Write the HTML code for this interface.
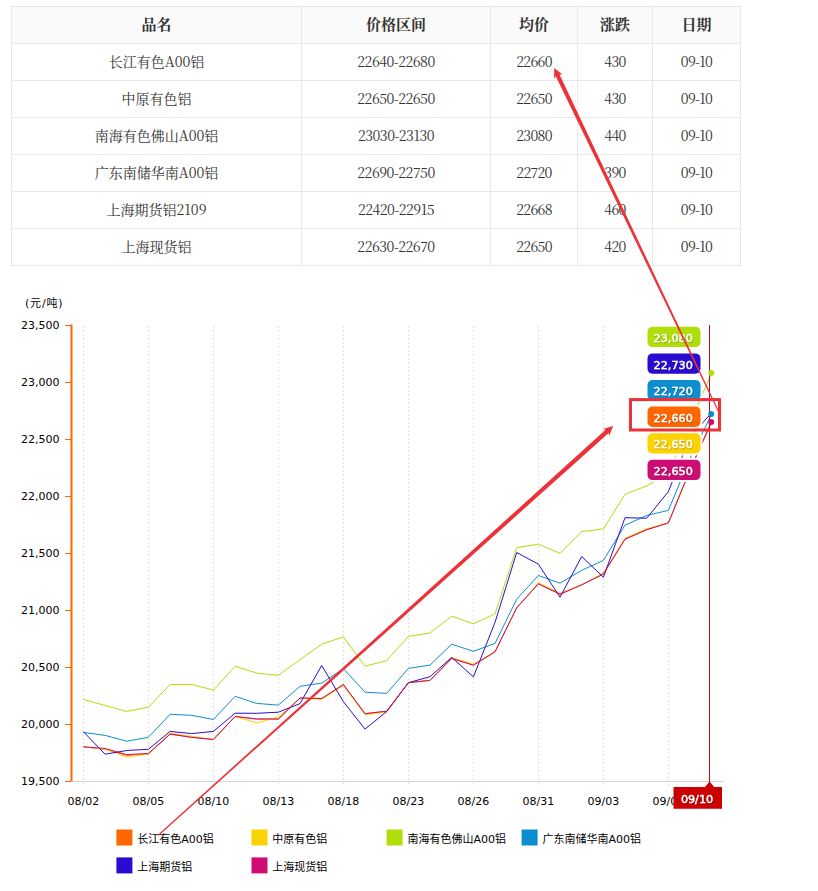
<!DOCTYPE html>
<html lang="zh-CN">
<head>
<meta charset="utf-8">
<title>铝价行情</title>
<style>
html,body{margin:0;padding:0;background:#fff;}
body{width:818px;height:891px;position:relative;overflow:hidden;}
table.q{position:absolute;left:11px;top:6px;width:729px;border-collapse:collapse;table-layout:fixed;
  font-family:"Noto Serif CJK SC","Liberation Serif",serif;font-size:14px;color:#333;}
table.q th,table.q td{border:1px solid #e8e8e8;height:36px;padding:0;text-align:center;vertical-align:middle;line-height:18px;}
table.q td,table.q th{height:34px;padding-bottom:2px;}
table.q td.n{letter-spacing:-0.7px;}
table.q td.r{letter-spacing:-0.5px;}
table.q th{background:#fafafa;font-size:15px;font-weight:bold;color:#333;}
svg.c{position:absolute;left:0;top:0;}
svg.c text{font-family:"DejaVu Sans","Noto Sans CJK SC",sans-serif;font-size:11px;fill:#000;}
svg.c text.bt{fill:#fff;stroke:#fff;stroke-width:0.45px;font-size:11.2px;}
</style>
</head>
<body>
<table class="q">
<colgroup><col style="width:290px"><col style="width:189px"><col style="width:87px"><col style="width:75px"><col style="width:88px"></colgroup>
<tr><th>品名</th><th>价格区间</th><th>均价</th><th>涨跌</th><th>日期</th></tr>
<tr><td>长江有色A00铝</td><td class="r">22640-22680</td><td class="n">22660</td><td class="n">430</td><td class="n">09-10</td></tr>
<tr><td>中原有色铝</td><td class="r">22650-22650</td><td class="n">22650</td><td class="n">430</td><td class="n">09-10</td></tr>
<tr><td>南海有色佛山A00铝</td><td class="r">23030-23130</td><td class="n">23080</td><td class="n">440</td><td class="n">09-10</td></tr>
<tr><td>广东南储华南A00铝</td><td class="r">22690-22750</td><td class="n">22720</td><td class="n">390</td><td class="n">09-10</td></tr>
<tr><td>上海期货铝2109</td><td class="r">22420-22915</td><td class="n">22668</td><td class="n">460</td><td class="n">09-10</td></tr>
<tr><td>上海现货铝</td><td class="r">22630-22670</td><td class="n">22650</td><td class="n">420</td><td class="n">09-10</td></tr>
</table>
<svg class="c" width="818" height="891" viewBox="0 0 818 891">
<defs><filter id="ts" x="-10%" y="-30%" width="120%" height="170%"><feDropShadow dx="0.5" dy="0.8" stdDeviation="0.25" flood-color="#000" flood-opacity="0.35"/></filter></defs>
<line x1="83.5" y1="326" x2="83.5" y2="786" stroke="#e2e2e2" stroke-width="1" stroke-dasharray="2,2"/>
<line x1="148.5" y1="326" x2="148.5" y2="786" stroke="#e2e2e2" stroke-width="1" stroke-dasharray="2,2"/>
<line x1="213.5" y1="326" x2="213.5" y2="786" stroke="#e2e2e2" stroke-width="1" stroke-dasharray="2,2"/>
<line x1="278.5" y1="326" x2="278.5" y2="786" stroke="#e2e2e2" stroke-width="1" stroke-dasharray="2,2"/>
<line x1="343.5" y1="326" x2="343.5" y2="786" stroke="#e2e2e2" stroke-width="1" stroke-dasharray="2,2"/>
<line x1="408.5" y1="326" x2="408.5" y2="786" stroke="#e2e2e2" stroke-width="1" stroke-dasharray="2,2"/>
<line x1="473.5" y1="326" x2="473.5" y2="786" stroke="#e2e2e2" stroke-width="1" stroke-dasharray="2,2"/>
<line x1="538.5" y1="326" x2="538.5" y2="786" stroke="#e2e2e2" stroke-width="1" stroke-dasharray="2,2"/>
<line x1="603.5" y1="326" x2="603.5" y2="786" stroke="#e2e2e2" stroke-width="1" stroke-dasharray="2,2"/>
<line x1="668.5" y1="484" x2="668.5" y2="786" stroke="#e2e2e2" stroke-width="1" stroke-dasharray="2,2"/>
<line x1="72" y1="781.5" x2="724" y2="781.5" stroke="#d4d4d4" stroke-width="1"/>
<line x1="71.5" y1="324.5" x2="71.5" y2="781.5" stroke="#FF6600" stroke-width="2"/>
<line x1="65" y1="325.5" x2="71" y2="325.5" stroke="#FF6600" stroke-width="1"/>
<text x="59.5" y="329.0" text-anchor="end">23,500</text>
<line x1="65" y1="382.5" x2="71" y2="382.5" stroke="#FF6600" stroke-width="1"/>
<text x="59.5" y="386.0" text-anchor="end">23,000</text>
<line x1="65" y1="439.5" x2="71" y2="439.5" stroke="#FF6600" stroke-width="1"/>
<text x="59.5" y="443.1" text-anchor="end">22,500</text>
<line x1="65" y1="496.5" x2="71" y2="496.5" stroke="#FF6600" stroke-width="1"/>
<text x="59.5" y="500.1" text-anchor="end">22,000</text>
<line x1="65" y1="553.5" x2="71" y2="553.5" stroke="#FF6600" stroke-width="1"/>
<text x="59.5" y="557.2" text-anchor="end">21,500</text>
<line x1="65" y1="610.5" x2="71" y2="610.5" stroke="#FF6600" stroke-width="1"/>
<text x="59.5" y="614.2" text-anchor="end">21,000</text>
<line x1="65" y1="667.5" x2="71" y2="667.5" stroke="#FF6600" stroke-width="1"/>
<text x="59.5" y="671.2" text-anchor="end">20,500</text>
<line x1="65" y1="724.5" x2="71" y2="724.5" stroke="#FF6600" stroke-width="1"/>
<text x="59.5" y="728.3" text-anchor="end">20,000</text>
<line x1="65" y1="781.5" x2="71" y2="781.5" stroke="#FF6600" stroke-width="1"/>
<text x="59.5" y="785.3" text-anchor="end">19,500</text>
<text x="25" y="307" letter-spacing="0.8">(元/吨)</text>
<text x="83.4" y="805" text-anchor="middle">08/02</text>
<text x="148.4" y="805" text-anchor="middle">08/05</text>
<text x="213.4" y="805" text-anchor="middle">08/10</text>
<text x="278.4" y="805" text-anchor="middle">08/13</text>
<text x="343.4" y="805" text-anchor="middle">08/18</text>
<text x="408.4" y="805" text-anchor="middle">08/23</text>
<text x="473.4" y="805" text-anchor="middle">08/26</text>
<text x="538.4" y="805" text-anchor="middle">08/31</text>
<text x="603.4" y="805" text-anchor="middle">09/03</text>
<text x="668.4" y="805" text-anchor="middle">09/08</text>
<polyline fill="none" stroke="#FF6600" stroke-width="1" stroke-linejoin="round" points="83.4,746.8 105.1,749.3 126.7,755.4 148.4,754.2 170.1,734.1 191.7,737.3 213.4,739.5 235.1,716.5 256.7,719.0 278.4,719.0 300.0,698.0 321.7,698.5 343.4,684.6 365.0,713.7 386.7,711.2 408.4,682.7 430.0,680.4 451.7,658.4 473.4,665.2 495.0,651.8 516.7,607.8 538.4,583.8 560.0,594.2 581.7,584.8 603.4,574.0 625.0,539.2 646.7,529.7 668.4,522.9 690.0,469.9 711.7,420.8"/>
<polyline fill="none" stroke="#FCD202" stroke-width="1" stroke-linejoin="round" points="83.4,746.8 105.1,749.3 126.7,757.0 148.4,754.2 170.1,733.1 191.7,736.3 213.4,739.5 235.1,716.5 256.7,723.0 278.4,717.0 300.0,698.0 321.7,699.5 343.4,685.6 365.0,714.7 386.7,712.2 408.4,682.7 430.0,680.4 451.7,657.4 473.4,664.2 495.0,651.8 516.7,607.8 538.4,582.8 560.0,593.2 581.7,584.8 603.4,573.0 625.0,538.2 646.7,528.7 668.4,522.9 690.0,471.0 711.7,421.9"/>
<polyline fill="none" stroke="#B0DE09" stroke-width="1" stroke-linejoin="round" points="83.4,699.4 105.1,705.5 126.7,711.4 148.4,707.2 170.1,684.5 191.7,684.5 213.4,690.1 235.1,666.3 256.7,673.1 278.4,675.3 300.0,659.6 321.7,644.2 343.4,636.9 365.0,666.2 386.7,660.6 408.4,636.4 430.0,633.0 451.7,616.1 473.4,623.9 495.0,613.9 516.7,547.6 538.4,544.2 560.0,553.3 581.7,531.5 603.4,529.0 625.0,494.3 646.7,485.9 668.4,473.3 690.0,423.1 711.7,372.9"/>
<polyline fill="none" stroke="#0D8ECF" stroke-width="1" stroke-linejoin="round" points="83.4,732.4 105.1,735.4 126.7,741.2 148.4,737.3 170.1,714.3 191.7,715.3 213.4,719.5 235.1,696.3 256.7,703.4 278.4,705.1 300.0,686.3 321.7,683.1 343.4,668.7 365.0,692.2 386.7,693.4 408.4,668.4 430.0,665.1 451.7,644.2 473.4,651.3 495.0,643.4 516.7,599.2 538.4,575.5 560.0,583.2 581.7,570.3 603.4,560.4 625.0,525.1 646.7,515.5 668.4,510.4 690.0,458.5 711.7,414.0"/>
<polyline fill="none" stroke="#2A0CD0" stroke-width="1" stroke-linejoin="round" points="83.4,731.7 105.1,754.2 126.7,750.5 148.4,749.3 170.1,731.4 191.7,733.6 213.4,731.4 235.1,713.2 256.7,713.3 278.4,712.2 300.0,703.6 321.7,665.5 343.4,701.7 365.0,729.1 386.7,711.5 408.4,682.7 430.0,676.7 451.7,657.4 473.4,676.9 495.0,622.4 516.7,552.5 538.4,564.2 560.0,597.2 581.7,556.5 603.4,577.2 625.0,517.7 646.7,518.2 668.4,491.6 690.0,436.8 711.7,412.8"/>
<polyline fill="none" stroke="#CD0D74" stroke-width="1" stroke-linejoin="round" points="83.4,746.8 105.1,748.5 126.7,754.6 148.4,753.4 170.1,734.1 191.7,737.3 213.4,739.5 235.1,716.5 256.7,719.0 278.4,719.0 300.0,698.0 321.7,698.5 343.4,684.6 365.0,713.7 386.7,711.2 408.4,682.7 430.0,680.4 451.7,658.4 473.4,665.2 495.0,651.8 516.7,607.8 538.4,583.8 560.0,594.2 581.7,584.8 603.4,574.0 625.0,539.2 646.7,529.7 668.4,522.9 690.0,469.9 711.7,421.9"/>
<line x1="709.5" y1="325" x2="709.5" y2="782" stroke="#bb0a14" stroke-width="1"/>
<circle cx="711.2" cy="372.9" r="3" fill="#B0DE09"/>
<circle cx="711.2" cy="414.0" r="3" fill="#0D8ECF"/>
<circle cx="711.2" cy="421.9" r="3" fill="#CD0D74"/>
<rect x="647.5" y="326.8" width="53" height="20.3" rx="5" ry="5" fill="#B0DE09" stroke="#fff" stroke-width="4" paint-order="stroke"/>
<text x="673.2" y="342.0" text-anchor="middle" class="bt" filter="url(#ts)">23,080</text>
<rect x="647.5" y="353.4" width="53" height="20.3" rx="5" ry="5" fill="#2A0CD0" stroke="#fff" stroke-width="4" paint-order="stroke"/>
<text x="673.2" y="368.6" text-anchor="middle" class="bt" filter="url(#ts)">22,730</text>
<rect x="647.5" y="380.0" width="53" height="20.3" rx="5" ry="5" fill="#0D8ECF" stroke="#fff" stroke-width="4" paint-order="stroke"/>
<text x="673.2" y="395.2" text-anchor="middle" class="bt" filter="url(#ts)">22,720</text>
<rect x="647.5" y="406.6" width="53" height="20.3" rx="5" ry="5" fill="#FF6600" stroke="#fff" stroke-width="4" paint-order="stroke"/>
<text x="673.2" y="421.8" text-anchor="middle" class="bt" filter="url(#ts)">22,660</text>
<rect x="647.5" y="433.2" width="53" height="20.3" rx="5" ry="5" fill="#FCD202" stroke="#fff" stroke-width="4" paint-order="stroke"/>
<text x="673.2" y="448.4" text-anchor="middle" class="bt" filter="url(#ts)">22,650</text>
<rect x="647.5" y="459.8" width="53" height="20.3" rx="5" ry="5" fill="#CD0D74" stroke="#fff" stroke-width="4" paint-order="stroke"/>
<text x="673.2" y="475.0" text-anchor="middle" class="bt" filter="url(#ts)">22,650</text>
<path d="M673.5,787 L705,787 L709.6,781.5 L714.2,787 L722,787 L722,808.7 L673.5,808.7 Z" fill="#cc0000"/>
<text x="697" y="803" text-anchor="middle" class="bt" filter="url(#ts)">09/10</text>
<rect x="116.4" y="829.5" width="16" height="16" fill="#FF6600"/>
<text x="137.2" y="843.0">长江有色A00铝</text>
<rect x="251.5" y="829.5" width="16" height="16" fill="#FCD202"/>
<text x="272.3" y="843.0">中原有色铝</text>
<rect x="386.6" y="829.5" width="16" height="16" fill="#B0DE09"/>
<text x="407.4" y="843.0">南海有色佛山A00铝</text>
<rect x="521.6" y="829.5" width="16" height="16" fill="#0D8ECF"/>
<text x="542.4" y="843.0">广东南储华南A00铝</text>
<rect x="116.4" y="857.4" width="16" height="16" fill="#2A0CD0"/>
<text x="137.2" y="871.0">上海期货铝</text>
<rect x="251.5" y="857.4" width="16" height="16" fill="#CD0D74"/>
<text x="272.3" y="871.0">上海现货铝</text>
<rect x="630.5" y="399.6" width="89" height="30.4" fill="none" stroke="#ec3238" stroke-width="3"/>
<path d="M157.6,835.1 L605.6,429.8 L602.9,429.0 L613.1,426.1 L609.2,435.9 L608.7,433.1 L158.4,835.9 Z" fill="#ec3238"/>
<path d="M718.5,412.8 L555.8,76.2 L554.1,78.7 L554.2,68.1 L562.5,74.6 L559.5,74.4 L719.5,412.2 Z" fill="#ec3238"/>
</svg>
</body>
</html>
